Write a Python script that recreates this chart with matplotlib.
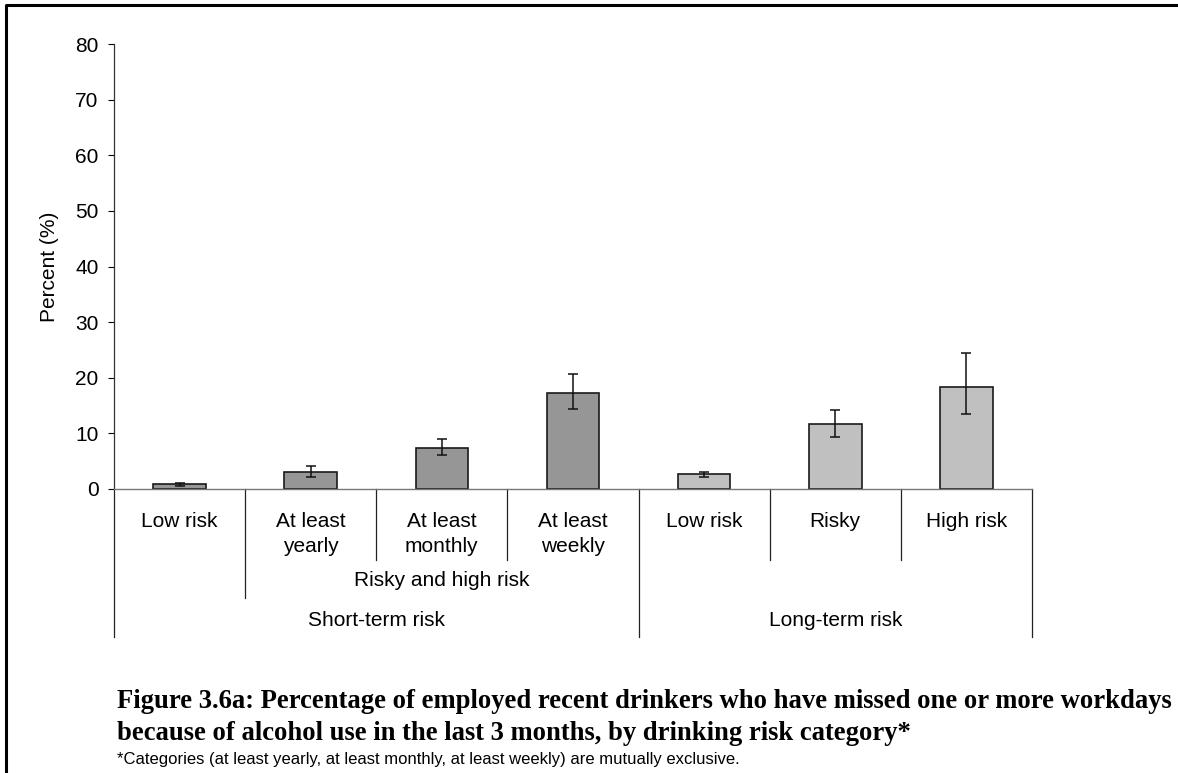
import matplotlib
matplotlib.use('Agg')
import matplotlib.pyplot as plt
from matplotlib.lines import Line2D
from matplotlib.transforms import blended_transform_factory
from matplotlib import font_manager
import numpy as np

# data
categories = ['Low risk', 'At least\nyearly', 'At least\nmonthly', 'At least\nweekly',
              'Low risk', 'Risky', 'High risk']
percent = [0.85, 3.0, 7.4, 17.3, 2.65, 11.6, 18.4]
ci_low = [0.6, 2.1, 6.1, 14.3, 2.2, 9.35, 13.5]
ci_high = [1.1, 4.2, 9.05, 20.7, 3.05, 14.2, 24.5]
group = ['short', 'short', 'short', 'short', 'long', 'long', 'long']
yticks = list(range(0, 81, 10))

W, H = 1178, 773
plt.rcParams['font.family'] = ['Liberation Sans', 'DejaVu Sans']

fig = plt.figure(figsize=(W / 100, H / 100), dpi=100)
ax = fig.add_axes([114 / W, 1 - 489 / H, (1032 - 114) / W, (489 - 44) / H])


def fy(py):
    return 1 - py / H


colors = {'short': '#969696', 'long': '#c0c0c0'}
x = np.arange(len(categories))
vals = np.array(percent)
yerr = [vals - np.array(ci_low), np.array(ci_high) - vals]
ax.bar(x, vals, width=0.4, color=[colors[g] for g in group],
       edgecolor='#1a1a1a', linewidth=1.2, zorder=2)
ax.errorbar(x, vals, yerr=yerr, fmt='none', ecolor='#111111',
            elinewidth=1.1, capsize=3.5, capthick=1.1, zorder=3)

fs = 15
ax.set_xlim(-0.5, len(categories) - 0.5)
ax.set_ylim(0, 80)
ax.set_yticks(yticks)
ax.tick_params(axis='y', direction='out', length=4, width=0.8, labelsize=fs, pad=7)
ax.set_xticks([])
for s in ['top', 'right']:
    ax.spines[s].set_visible(False)
ax.spines['left'].set_color('#333333')
ax.spines['bottom'].set_color('#777777')
ax.spines['left'].set_linewidth(0.9)
ax.spines['bottom'].set_linewidth(1.0)
ax.set_ylabel('Percent (%)', fontsize=fs, labelpad=12)

# category labels under the axis
tr = blended_transform_factory(ax.transData, fig.transFigure)
for i, lab in enumerate(categories):
    ax.text(i, fy(512), lab, transform=tr, ha='center', va='top',
            fontsize=fs, linespacing=1.38)


def vline(xd, y0, y1):
    ax.add_line(Line2D([xd, xd], [fy(y0), fy(y1)], transform=tr,
                       color='#222222', lw=0.9, clip_on=False))


for b in [1.5, 2.5, 4.5, 5.5]:
    vline(b, 489, 560)
vline(0.5, 489, 598)
for b in [-0.5, 3.5, 6.5]:
    vline(b, 489, 637)

ax.text(2.0, fy(571), 'Risky and high risk', transform=tr, ha='center',
        va='top', fontsize=fs)
ax.text(1.5, fy(611), 'Short-term risk', transform=tr, ha='center',
        va='top', fontsize=fs)
ax.text(5.0, fy(611), 'Long-term risk', transform=tr, ha='center',
        va='top', fontsize=fs)

# caption
fig.text(117 / W, fy(689), 'Figure 3.6a: Percentage of employed recent drinkers who have missed one or more workdays\n'
         'because of alcohol use in the last 3 months, by drinking risk category*',
         ha='left', va='top', fontsize=19.2, fontweight='bold',
         family=['Liberation Serif', 'DejaVu Serif'], linespacing=1.38)
names = {f.name for f in font_manager.fontManager.ttflist}
foot_font = 'Liberation Sans Narrow' if 'Liberation Sans Narrow' in names else 'Liberation Sans'
fig.text(117 / W, fy(752), '*Categories (at least yearly, at least monthly, at least weekly) are mutually exclusive.',
         ha='left', va='top', fontsize=13.5 if foot_font != 'Liberation Sans' else 12, family=foot_font)

# page frame
fig.add_artist(Line2D([6 / W, 6 / W, 1.0], [0.0, fy(5), fy(5)],
                      transform=fig.transFigure, color='black', lw=2.2))

fig.savefig('out.png', dpi=100)
